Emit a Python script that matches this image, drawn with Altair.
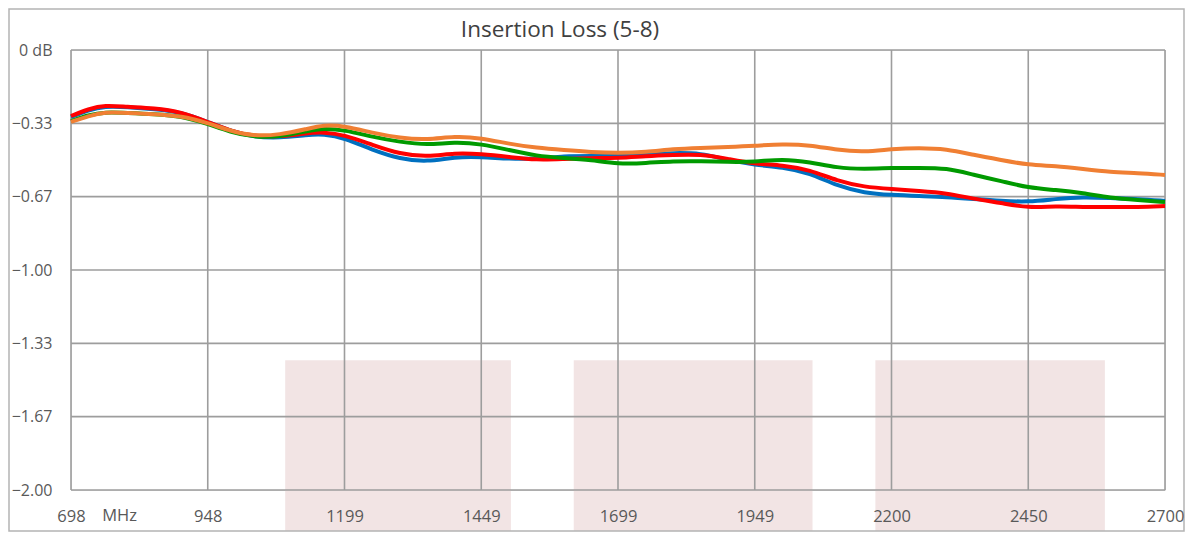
import altair as alt
import pandas as pd

# ---------------- data ----------------
freq = [698, 730, 760, 800, 850, 900, 948, 990, 1030, 1080, 1130, 1160, 1199, 1250,
        1300, 1350, 1400, 1449, 1500, 1550, 1600, 1650, 1699, 1750, 1800, 1850, 1900,
        1949, 2000, 2050, 2100, 2150, 2200, 2250, 2300, 2350, 2400, 2450, 2500, 2550,
        2600, 2650, 2700]

blue = [-0.305, -0.273, -0.255, -0.259, -0.268, -0.282, -0.327, -0.368, -0.395, -0.400,
        -0.386, -0.382, -0.400, -0.455, -0.495, -0.509, -0.486, -0.486, -0.495, -0.495,
        -0.482, -0.482, -0.482, -0.473, -0.468, -0.468, -0.500, -0.523, -0.532, -0.559,
        -0.618, -0.650, -0.659, -0.664, -0.668, -0.677, -0.686, -0.691, -0.677, -0.668,
        -0.673, -0.677, -0.686]

red = [-0.300, -0.268, -0.250, -0.259, -0.264, -0.282, -0.327, -0.368, -0.391, -0.395,
       -0.377, -0.373, -0.386, -0.432, -0.473, -0.486, -0.468, -0.473, -0.486, -0.500,
       -0.495, -0.491, -0.491, -0.482, -0.477, -0.473, -0.495, -0.518, -0.523, -0.545,
       -0.595, -0.623, -0.632, -0.641, -0.650, -0.677, -0.695, -0.718, -0.709, -0.714,
       -0.714, -0.714, -0.709]

green = [-0.323, -0.295, -0.282, -0.286, -0.291, -0.300, -0.336, -0.373, -0.395, -0.395,
         -0.368, -0.355, -0.364, -0.395, -0.418, -0.432, -0.418, -0.427, -0.455, -0.482,
         -0.491, -0.500, -0.518, -0.514, -0.505, -0.505, -0.509, -0.509, -0.495, -0.509,
         -0.536, -0.541, -0.536, -0.536, -0.536, -0.568, -0.595, -0.627, -0.636, -0.650,
         -0.673, -0.682, -0.691]

orange = [-0.327, -0.300, -0.282, -0.286, -0.291, -0.300, -0.332, -0.368, -0.391, -0.386,
          -0.359, -0.341, -0.345, -0.377, -0.400, -0.409, -0.391, -0.400, -0.427, -0.445,
          -0.455, -0.464, -0.468, -0.464, -0.450, -0.445, -0.441, -0.436, -0.427, -0.432,
          -0.455, -0.464, -0.450, -0.445, -0.450, -0.477, -0.500, -0.523, -0.527, -0.541,
          -0.555, -0.559, -0.568]

series_names = ["blue", "red", "green", "orange"]
series_values = [blue, red, green, orange]
series_colors = ["#0070C0", "#FF0000", "#009A00", "#F07F33"]

band_start = [1090, 1618, 2170]
band_end = [1503, 2055, 2590]
band_top = [-1.41, -1.41, -1.41]

x_ticks = [698, 948.25, 1198.5, 1448.75, 1699, 1949.25, 2199.5, 2449.75, 2700]
y_ticks = [0, -1 / 3, -2 / 3, -1, -4 / 3, -5 / 3, -2]

title_text = ["Insertion Loss (5-8)"]
unit_text = ["MHz"]
unit_pos = [787]

# ---------------- chart ----------------
FONT = "Open Sans"
LABEL = "#595959"
GRID = "#9d9d9d"

xscale = alt.Scale(domain=[698, 2700], nice=False, zero=False)
yscale = alt.Scale(domain=[-2, 0], nice=False, zero=False)

xaxis = alt.Axis(values=x_ticks, labelExpr="format(datum.value, '.0f')", grid=False,
                 domain=False, ticks=False, labelFont=FONT, labelFontSize=16.5,
                 labelColor=LABEL, labelPadding=18, title=None, labelFlush=False,
                 zindex=1)
yaxis = alt.Axis(values=y_ticks,
                 labelExpr="datum.value == 0 ? '0 dB' : format(datum.value, '.2f')",
                 grid=False, domain=False, ticks=False, labelFont=FONT, labelFontSize=16,
                 labelColor=LABEL, labelPadding=19, title=None, labelFlush=False,
                 zindex=1)

bands_df = pd.DataFrame({"start": band_start, "end": band_end, "top": band_top})
bands = alt.Chart(bands_df).mark_rect(color="#f2e4e4").encode(
    x=alt.X("start:Q", scale=xscale, axis=xaxis),
    x2="end:Q",
    y=alt.Y("top:Q", scale=yscale, axis=yaxis),
    y2=alt.value(481),
)

xgrid = alt.Chart(pd.DataFrame({"v": x_ticks})).mark_rule(
    color=GRID, strokeWidth=1.6).encode(x=alt.X("v:Q", scale=xscale))
ygrid = alt.Chart(pd.DataFrame({"v": y_ticks})).mark_rule(
    color=GRID, strokeWidth=1.6).encode(y=alt.Y("v:Q", scale=yscale))

lines = []
for name, vals, col in zip(series_names, series_values, series_colors):
    df = pd.DataFrame({"freq": freq, "loss": vals})
    lines.append(
        alt.Chart(df).mark_line(color=col, strokeWidth=4, interpolate="basis").encode(
            x=alt.X("freq:Q", scale=xscale),
            y=alt.Y("loss:Q", scale=yscale),
        )
    )

unit = alt.Chart(pd.DataFrame({"u": unit_text, "f": unit_pos})).mark_text(
    font=FONT, fontSize=16.5, color=LABEL, baseline="top", dy=18, align="center"
).encode(x=alt.X("f:Q", scale=xscale), y=alt.datum(-2), text="u:N")

title = alt.Chart(pd.DataFrame({"t": title_text})).mark_text(
    font=FONT, fontSize=22.5, color="#404040", baseline="alphabetic", align="center"
).encode(x=alt.value(489), y=alt.value(-13), text="t:N")

frame = alt.Chart(pd.DataFrame({"a": [0]})).mark_rect(
    fill=None, stroke="#b4b4b4", strokeWidth=1.5).encode(
    x=alt.value(-62), x2=alt.value(1113), y=alt.value(-41), y2=alt.value(481))

chart = alt.layer(bands, xgrid, ygrid, *lines, unit, title, frame).properties(
    width=1094,
    height=440,
    autosize=alt.AutoSizeParams(type="none"),
    padding={"left": 63, "top": 42, "right": 20, "bottom": 42},
).configure_view(stroke=None).configure(background="white")

chart.save("out.html", embed_options={"renderer": "svg", "actions": False})
